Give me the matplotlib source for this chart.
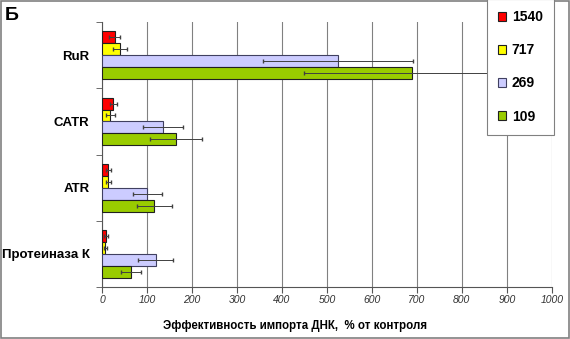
import numpy as np
import matplotlib.pyplot as plt
from matplotlib.patches import Rectangle

plt.rcParams['font.family'] = ['Liberation Sans', 'DejaVu Sans']

categories = ["RuR", "CATR", "ATR", "Протеиназа К"]
series = ["1540", "717", "269", "109"]
colors = ["#FF0000", "#FFFF00", "#CCCCFF", "#99CC00"]
edges = ["#202020", "#202020", "#404060", "#202020"]

values = [
    [28, 25, 14, 9],       # 1540
    [40, 18, 14, 7],       # 717
    [524, 136, 101, 119],  # 269
    [689, 164, 116, 65],   # 109
]
errors = [
    [12, 8, 6, 4],
    [15, 10, 6, 3],
    [167, 44, 33, 38],
    [240, 58, 39, 22],
]


def main():
    fig = plt.figure(figsize=(5.7, 3.39), dpi=100)
    ax = fig.add_axes([0.179, 0.153, 0.789, 0.782])

    n = len(categories)
    ypos = np.arange(n)[::-1].astype(float)
    h = 0.18
    for i, s in enumerate(series):
        off = (i - 1.5) * h
        ax.barh(ypos - off, values[i], height=h, color=colors[i],
                edgecolor=edges[i], linewidth=0.8, label=s, zorder=3)
        ax.errorbar(values[i], ypos - off, xerr=errors[i], fmt="none",
                    ecolor="#404040", elinewidth=0.7, capsize=1.5, zorder=4)

    ax.set_xlim(0, 1000)
    ax.set_ylim(-0.5, n - 0.5)
    ax.set_xticks(np.arange(0, 1001, 100))
    ax.set_xticklabels([str(v) for v in range(0, 1001, 100)],
                       fontstyle="italic", fontsize=7.5, color="#333333")
    ax.set_yticks(ypos)
    ax.set_yticklabels(categories, fontweight="bold", fontsize=9.5)
    ax.set_yticks(np.arange(-0.5, n, 1.0), minor=True)
    ax.tick_params(axis="y", which="major", length=0, pad=9)
    ax.tick_params(axis="y", which="minor", length=4, direction="out",
                   color="#555555")
    ax.tick_params(axis="x", length=4, direction="out", color="#555555",
                   pad=2)
    ax.grid(axis="x", color="#808080", linewidth=0.8, zorder=0)
    for sp in ["top", "right"]:
        ax.spines[sp].set_visible(False)
    for sp in ["left", "bottom"]:
        ax.spines[sp].set_color("#555555")

    ax.set_xlabel("Эффективность импорта ДНК,  % от контроля",
                  fontweight="bold", fontsize=8.3)
    ax.xaxis.set_label_coords(0.429, -0.123)

    leg = fig.legend(loc="upper left", bbox_to_anchor=(0.854, 1.003),
                     frameon=True, fancybox=False,
                     prop={"weight": "bold", "size": 10},
                     handlelength=0.6, handleheight=0.6, handletextpad=0.4,
                     labelspacing=1.38, borderpad=0.8, borderaxespad=0)
    leg.get_frame().set_edgecolor("#808080")
    leg.get_frame().set_linewidth(0.8)
    leg.get_frame().set_alpha(1)

    fig.text(0.008, 0.955, "Б", fontsize=14, fontweight="bold", va="center")
    fig.patches.append(Rectangle((0.002, 0.003), 0.996, 0.994,
                                 transform=fig.transFigure, fill=False,
                                 edgecolor="#808080", linewidth=1.2))

    fig.savefig("out.png", dpi=100)


if __name__ == "__main__":
    main()
